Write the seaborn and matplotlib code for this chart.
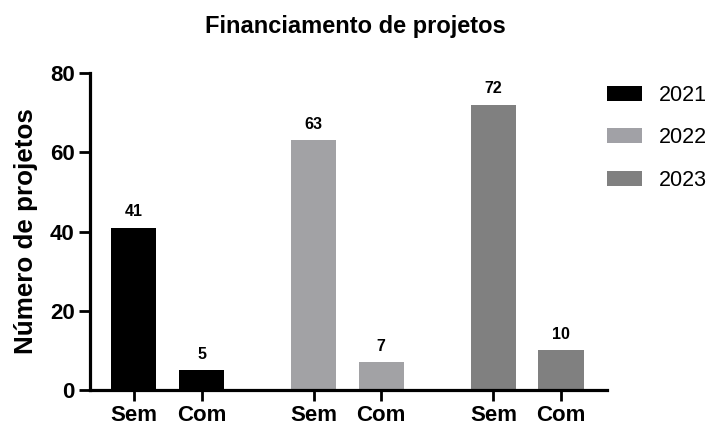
import matplotlib
matplotlib.use("Agg")
import matplotlib.pyplot as plt
import seaborn as sns
import pandas as pd
from matplotlib.patches import Patch

years = ["2021", "2022", "2023"]
categories = ["Sem", "Com"]
values_2021 = [41, 5]
values_2022 = [63, 7]
values_2023 = [72, 10]
colors = ["#000000", "#A1A1A6", "#808080"]

group_step = 2.66
rows = []
for gi, (yr, vals) in enumerate(zip(years, [values_2021, values_2022, values_2023])):
    for ci, (cat, v) in enumerate(zip(categories, vals)):
        rows.append({"pos": gi * group_step + ci, "year": yr, "cat": cat, "value": v})
df = pd.DataFrame(rows)

sns.set_theme(style="ticks")
plt.rcParams["font.family"] = ["Liberation Sans", "DejaVu Sans"]
plt.rcParams["text.color"] = "black"
plt.rcParams["axes.labelcolor"] = "black"

fig = plt.figure(figsize=(7.11, 4.30), dpi=100)
ax = fig.add_axes([0.1266, 0.093, 0.7271, 0.737])

sns.barplot(data=df, x="pos", y="value", hue="year", palette=colors,
            native_scale=True, dodge=False, width=0.667, ax=ax,
            edgecolor="none", linewidth=0, legend=False)

for _, r in df.iterrows():
    ax.annotate(f"{r['value']}", (r["pos"], r["value"]), xytext=(0, 6),
                textcoords="offset points", ha="center", va="bottom",
                fontsize=11.5, fontweight="bold", color="black")

ax.set_xlim(-0.65, 7.0)
ax.set_ylim(0, 80)
ax.set_yticks([0, 20, 40, 60, 80])
ax.set_xticks(df["pos"].tolist())
ax.set_xticklabels(df["cat"].tolist())
for lbl in ax.get_xticklabels() + ax.get_yticklabels():
    lbl.set_fontweight("bold")
ax.tick_params(axis="both", labelsize=16, width=2, length=8, color="black", labelcolor="black")
ax.tick_params(axis="y", pad=3)
ax.tick_params(axis="x", pad=3)
ax.set_xlabel("")
ax.set_ylabel("Número de projetos", fontsize=18.7, fontweight="bold")
ax.yaxis.set_label_coords(-0.1, 0.5)
for s in ["top", "right"]:
    ax.spines[s].set_visible(False)
for s in ["left", "bottom"]:
    ax.spines[s].set_linewidth(2.3)
    ax.spines[s].set_color("black")

fig.suptitle("Financiamento de projetos", x=0.5, y=0.965, fontsize=17, fontweight="bold", color="black")

handles = [Patch(facecolor=c, edgecolor="none", label=y) for c, y in zip(colors, years)]
fig.legend(handles=handles, loc="upper left", bbox_to_anchor=(0.854, 0.803),
           frameon=False, fontsize=15.5, handlelength=1.6, handleheight=0.7,
           labelspacing=1.0, handletextpad=0.8, borderpad=0, borderaxespad=0)

fig.savefig("out.png", dpi=100, facecolor="white")
